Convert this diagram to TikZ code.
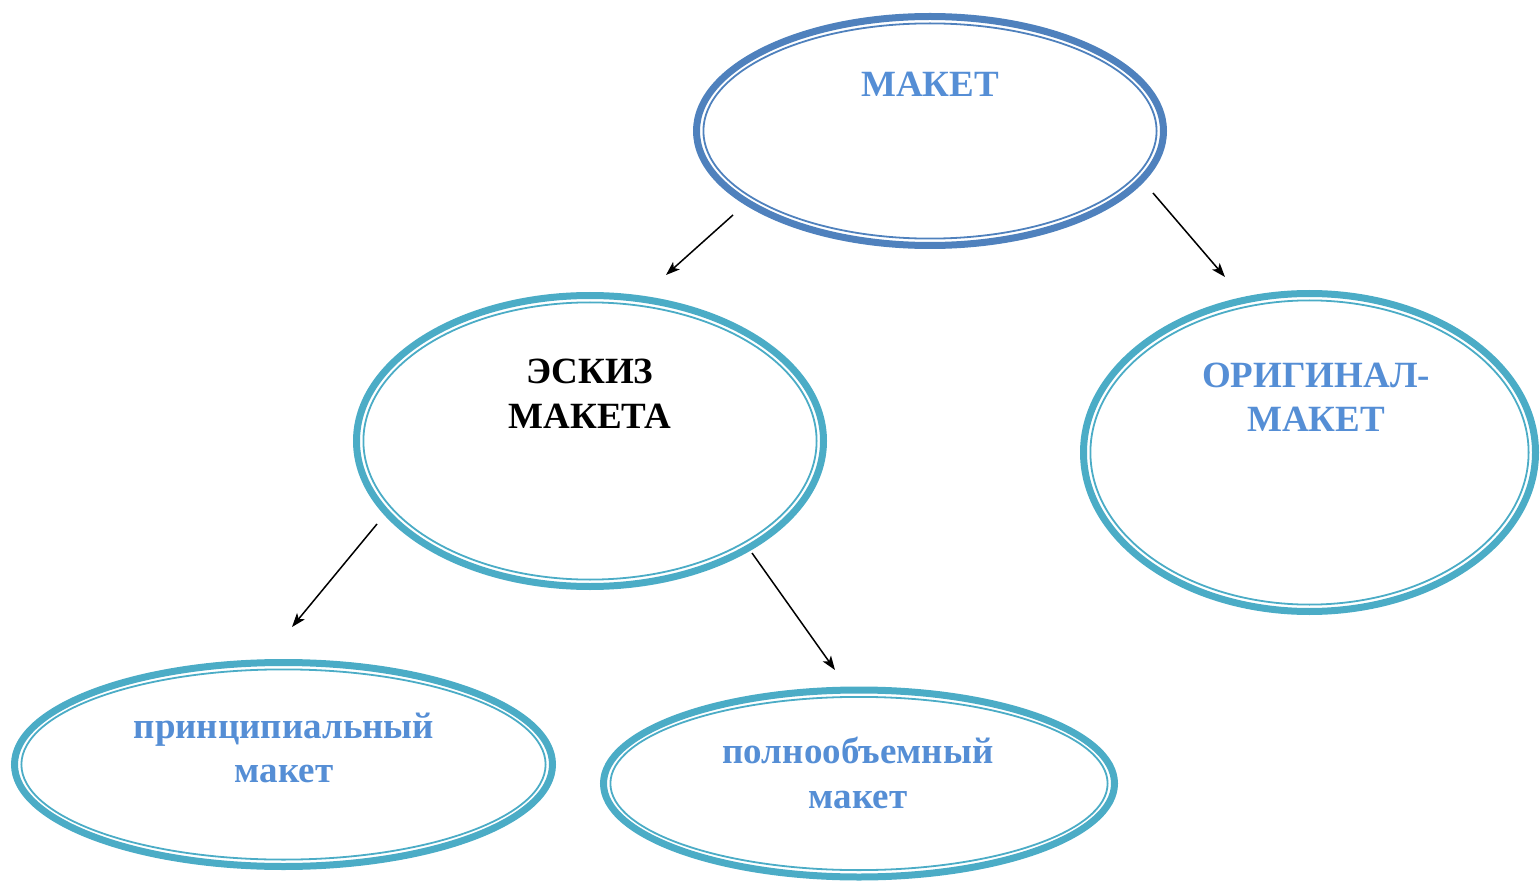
\documentclass[tikz,border=0pt]{standalone}
\usepackage{fontspec}
\setmainfont{Liberation Serif}
\usetikzlibrary{shapes.geometric,arrows.meta}
\definecolor{darkblue}{HTML}{4F81BD}
\definecolor{tealc}{HTML}{4BACC6}
\definecolor{txtblue}{HTML}{558ED5}
\tikzset{
  ell/.style={ellipse, draw=#1, line width=7pt, inner sep=0pt, fill=none},
  inl/.style={draw=#1, line width=1.8pt},
  lbl/.style={anchor=base, inner sep=0pt, font=\fontsize{37}{44}\selectfont\bfseries, text=txtblue},
  arr/.style={line width=1.5pt, -{Stealth[length=14pt,width=10pt,inset=3.5pt]}}
}
\begin{document}
\begin{tikzpicture}[x=1pt,y=-1pt]
\useasboundingbox (0,0) rectangle (1540,885);
% ellipses
\node[ell=darkblue, minimum width=467pt, minimum height=229pt] (maket) at (930,131) {};
\draw[inl=darkblue] (maket.center) ellipse (226.6 and 107.6);
\node[ell=tealc, minimum width=467pt, minimum height=291pt] (eskiz) at (590,441) {};
\draw[inl=tealc] (eskiz.center) ellipse (226.6 and 138.6);
\node[ell=tealc, minimum width=452pt, minimum height=318pt] (orig) at (1309.5,452.5) {};
\draw[inl=tealc] (orig.center) ellipse (219.1 and 152.1);
\node[ell=tealc, minimum width=538pt, minimum height=204pt] (princ) at (283.5,764.5) {};
\draw[inl=tealc] (princ.center) ellipse (262.1 and 95.1);
\node[ell=tealc, minimum width=511pt, minimum height=187pt] (poln) at (859,783.5) {};
\draw[inl=tealc] (poln.center) ellipse (248.6 and 86.6);
% labels
\node[lbl] (t1) at (930,97) {МАКЕТ};
\node[lbl, text=black] (t2a) at (590,384) {ЭСКИЗ};
\node[lbl, text=black] (t2b) at (590,428) {МАКЕТА};
\node[lbl] (t3a) at (1316,388) {ОРИГИНАЛ-};
\node[lbl] (t3b) at (1316,431) {МАКЕТ};
\node[lbl] (t4a) at (284,738) {принципиальный};
\node[lbl] (t4b) at (284,782) {макет};
\node[lbl] (t5a) at (858,763) {полнообъемный};
\node[lbl] (t5b) at (858,808) {макет};
% arrow ends
\coordinate (a1s) at (733,215); \coordinate (a1e) at (666,275);
\coordinate (a2s) at (1153,193); \coordinate (a2e) at (1225,277);
\coordinate (a3s) at (377,524); \coordinate (a3e) at (292,627);
\coordinate (a4s) at (752,553); \coordinate (a4e) at (835,670);
\draw[arr] (a1s) -- (a1e);
\draw[arr] (a2s) -- (a2e);
\draw[arr] (a3s) -- (a3e);
\draw[arr] (a4s) -- (a4e);
\end{tikzpicture}
\end{document}
